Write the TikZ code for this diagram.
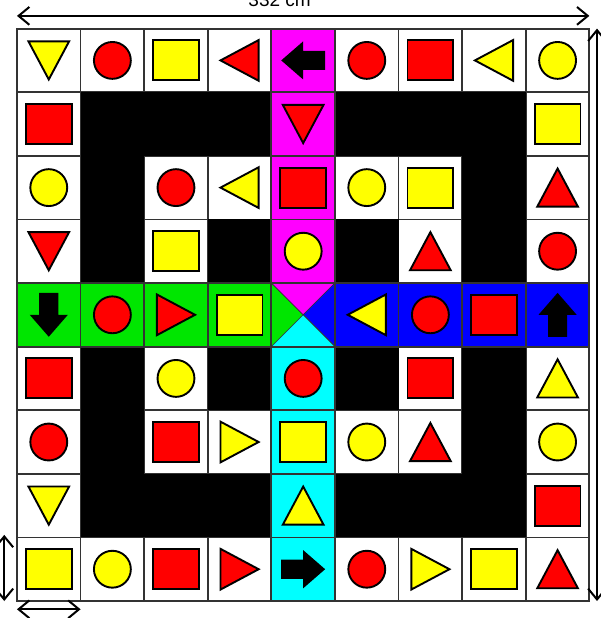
\documentclass[tikz,border=0pt]{standalone}
\usepackage{fontspec}
\setsansfont{Liberation Sans}
\usepackage{xcolor}
\usetikzlibrary{arrows.meta}

\definecolor{boardyellow}{RGB}{255,255,0}
\definecolor{boardred}{RGB}{255,0,0}
\definecolor{boardgreen}{RGB}{0,230,0}
\definecolor{boardblue}{RGB}{0,0,255}
\definecolor{boardmagenta}{RGB}{255,0,255}
\definecolor{boardcyan}{RGB}{0,255,255}

\tikzset{
  cell/.style={draw=black!80, line width=0.8pt},
  piece/.style={draw=black, line width=0.85pt},
  span/.style={line width=0.9pt, {Straight Barb[length=1.7mm,width=2.8mm]}-{Straight Barb[length=1.7mm,width=2.8mm]}},
  sq/.pic={\path[piece, pic actions] (-0.36,-0.315) rectangle (0.36,0.315);},
  disc/.pic={\path[piece, pic actions] (0,0) circle (0.29);},
  tri/.pic={\path[piece, pic actions] (-0.32,-0.3) -- (0.32,-0.3) -- (0,0.3) -- cycle;},
  arr/.pic={\fill (-0.345,-0.15) -- (0,-0.15) -- (0,-0.3) -- (0.345,0) -- (0,0.3) -- (0,0.15) -- (-0.345,0.15) -- cycle;}
}

\begin{document}
\begin{tikzpicture}[x=1cm, y=1cm]
  \useasboundingbox (-0.267,-0.267) rectangle (9.167,9.45);
  \foreach \r in {0,...,8}
    \foreach \c in {0,...,8}
      \draw[cell, fill=white] (\c,8-\r) rectangle ++(1,1);
  \foreach \r/\c in {1/1,1/2,1/3,1/5,1/6,1/7,2/1,2/7,3/1,3/3,3/5,3/7,5/1,5/3,5/5,5/7,6/1,6/7,7/1,7/2,7/3,7/5,7/6,7/7}
    \fill[black] (\c,8-\r) rectangle ++(1,1);
  \foreach \r in {0,...,3} \draw[cell, fill=boardmagenta] (4,8-\r) rectangle ++(1,1);
  \foreach \r in {5,...,8} \draw[cell, fill=boardcyan] (4,8-\r) rectangle ++(1,1);
  \foreach \c in {0,...,3} \draw[cell, fill=boardgreen] (\c,4) rectangle ++(1,1);
  \foreach \c in {5,...,8} \draw[cell, fill=boardblue] (\c,4) rectangle ++(1,1);
  \coordinate (mid) at (4.5,4.5);
  \draw[cell, line width=0.3pt, fill=boardgreen] (4,4) -- (mid) -- (4,5) -- cycle;
  \draw[cell, line width=0.3pt, fill=boardmagenta] (4,5) -- (mid) -- (5,5) -- cycle;
  \draw[cell, line width=0.3pt, fill=boardblue] (5,5) -- (mid) -- (5,4) -- cycle;
  \draw[cell, line width=0.3pt, fill=boardcyan] (5,4) -- (mid) -- (4,4) -- cycle;
  \draw[cell] (4,4) rectangle (5,5);

  \foreach \r/\c/\col in {0/2/boardyellow,0/6/boardred,1/0/boardred,1/8/boardyellow,2/4/boardred,2/6/boardyellow,3/2/boardyellow,4/3/boardyellow,4/7/boardred,5/0/boardred,5/6/boardred,6/2/boardred,6/4/boardyellow,7/8/boardred,8/0/boardyellow,8/2/boardred,8/7/boardyellow}
    \pic[fill=\col] at (\c+0.5,8.5-\r) {sq};
  \foreach \r/\c/\col in {0/1/boardred,0/5/boardred,0/8/boardyellow,2/0/boardyellow,2/2/boardred,2/5/boardyellow,3/4/boardyellow,3/8/boardred,4/1/boardred,4/6/boardred,5/2/boardyellow,5/4/boardred,6/0/boardred,6/5/boardyellow,6/8/boardyellow,8/1/boardyellow,8/5/boardred}
    \pic[fill=\col] at (\c+0.5,8.5-\r) {disc};
  \foreach \r/\c/\col/\rot in {0/0/boardyellow/180,0/3/boardred/90,0/7/boardyellow/90,1/4/boardred/180,2/3/boardyellow/90,2/8/boardred/0,3/0/boardred/180,3/6/boardred/0,4/2/boardred/-90,4/5/boardyellow/90,5/8/boardyellow/0,6/3/boardyellow/-90,6/6/boardred/0,7/0/boardyellow/180,7/4/boardyellow/0,8/3/boardred/-90,8/6/boardyellow/-90,8/8/boardred/0}
    \pic[fill=\col, rotate=\rot] at (\c+0.5,8.5-\r) {tri};
  \foreach \r/\c/\rot in {0/4/180,4/0/-90,4/8/90,8/4/0}
    \pic[rotate=\rot] at (\c+0.5,8.5-\r) {arr};

  \coordinate (wl) at (0,9.2);
  \coordinate (wr) at (9,9.2);
  \coordinate (ht) at (9.12,9);
  \coordinate (hb) at (9.12,0);
  \coordinate (cb) at (-0.2,0);
  \coordinate (ct) at (-0.2,1.04);
  \coordinate (cl) at (0,-0.13);
  \coordinate (cr) at (1,-0.13);
  \draw[span] (wl) -- (wr);
  \draw[span] (ht) -- (hb);
  \draw[span] (cb) -- (ct);
  \draw[span] (cl) -- (cr);
  \node[anchor=base, inner sep=0pt, font=\sffamily\fontsize{8.5}{10}\selectfont] (len) at (4.13,9.355) {332 cm};
\end{tikzpicture}
\end{document}
